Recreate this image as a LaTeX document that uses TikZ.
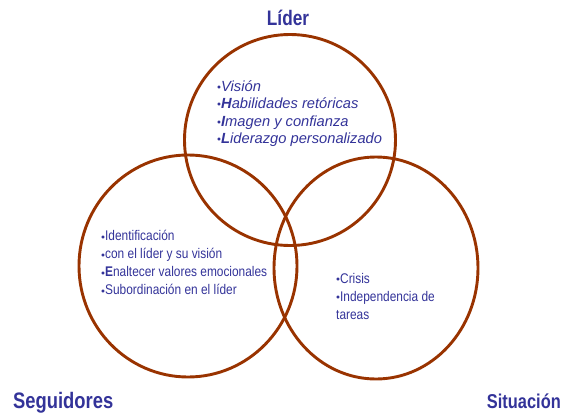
\documentclass[tikz,border=0pt]{standalone}
\usepackage{fontspec}
\setmainfont{Liberation Sans}
\newfontfamily\narrowfont[FakeStretch=0.85]{Liberation Sans}
\newfontfamily\titlefont[FakeStretch=0.82]{Liberation Sans}
\newcommand{\bul}{\raisebox{0.2ex}{\scalebox{0.55}{$\bullet$}}}
\usetikzlibrary{shapes.geometric, positioning}
\definecolor{ringcolor}{RGB}{153,51,0}
\definecolor{textcolor}{RGB}{51,51,153}

\begin{document}
\begin{tikzpicture}[
    x=1pt, y=-1pt,
    ring/.style={draw=ringcolor, line width=2.9pt, ellipse, inner sep=0pt},
    title/.style={text=textcolor, inner sep=0pt},
    items/.style={text=textcolor, align=left, inner sep=0pt, anchor=north west}
]
    \useasboundingbox (0,0) rectangle (563,413);

    % Circles
    \node[ring, minimum width=211pt, minimum height=211pt] (liderCirc) at (290,140) {};
    \node[ring, minimum width=218pt, minimum height=222pt] (seguidoresCirc) at (188,266) {};
    \node[ring, minimum width=204pt, minimum height=222pt] (situacionCirc) at (376,268) {};

    % Titles
    \node[title, anchor=base, font=\fontsize{21}{24}\titlefont\bfseries] (liderTitle) at (288,25) {Líder};
    \node[title, anchor=base west, font=\fontsize{22.4}{24}\titlefont\bfseries] (seguidoresTitle) at (13,408) {Seguidores};
    \node[title, anchor=base east, font=\fontsize{20}{24}\titlefont\bfseries] (situacionTitle) at (561,408) {Situación};

    % Items
    \node[items, font=\fontsize{14.7}{17.5}\selectfont\itshape] (liderItems) at (217,80) {%
        \bul Visión\\
        \bul\textbf{H}abilidades retóricas\\
        \bul\textbf{I}magen y confianza\\
        \bul\textbf{L}iderazgo personalizado};
    \node[items, font=\fontsize{14}{18}\narrowfont] (seguidoresItems) at (101,230) {%
        \bul Identificación\\
        \bul con el líder y su visión\\
        \bul\textbf{E}naltecer valores emocionales\\
        \bul Subordinación en el líder};
    \node[items, font=\fontsize{14}{18}\narrowfont] (situacionItems) at (336,273) {%
        \bul Crisis\\
        \bul Independencia de\\
        tareas};
\end{tikzpicture}
\end{document}
